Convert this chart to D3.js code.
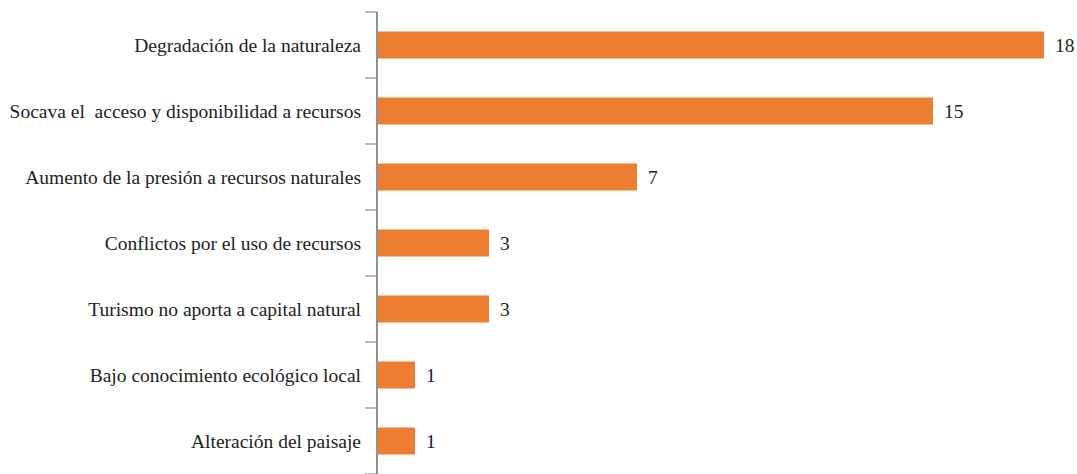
<!DOCTYPE html>
<html><head><meta charset="utf-8">
<script src="https://cdn.jsdelivr.net/npm/d3@7"></script>
<style>
html,body{margin:0;padding:0;background:#fff;}
</style></head>
<body>
<svg id="chart" width="1077" height="474"></svg>
<script>
const categories = [
  "Degradación de la naturaleza",
  "Socava el  acceso y disponibilidad a recursos",
  "Aumento de la presión a recursos naturales",
  "Conflictos por el uso de recursos",
  "Turismo no aporta a capital natural",
  "Bajo conocimiento ecológico local",
  "Alteración del paisaje"
];
const values = [18, 15, 7, 3, 3, 1, 1];

const FONT = "Liberation Serif";
const svg = d3.select("#chart");
const x0 = 378;
const x = d3.scaleLinear().domain([0, 18]).range([x0, x0 + 666]);
const y = d3.scaleBand().domain(categories).range([12, 474]).paddingInner(0.58).paddingOuter(0.29);

svg.selectAll("rect.bar").data(values).enter().append("rect")
  .attr("class","bar")
  .attr("x", x(0))
  .attr("y", (d,i)=> y(categories[i]) + y.bandwidth()/2 - 13.5)
  .attr("width", d=> x(d) - x(0))
  .attr("height", 27)
  .attr("fill", "#ED7D31");

svg.append("line").attr("x1", x0-1).attr("x2", x0-1).attr("y1", 12).attr("y2", 480)
  .attr("stroke", "#555").attr("stroke-width", 1.3);

const bounds = d3.range(categories.length + 1).map(i => 12 + i*y.step());
svg.selectAll("line.tick").data(bounds).enter().append("line")
  .attr("class","tick")
  .attr("x1", x0-13).attr("x2", x0-1)
  .attr("y1", d=>d).attr("y2", d=>d)
  .attr("stroke", "#777").attr("stroke-width", 1);

svg.selectAll("text.cat").data(categories).enter().append("text")
  .attr("class","cat")
  .attr("x", x0-17)
  .attr("y", d=> y(d) + y.bandwidth()/2)
  .attr("dy", "0.35em")
  .attr("text-anchor", "end")
  .attr("font-family", FONT)
  .attr("font-size", 19.5)
  .attr("fill", "#222")
  .style("white-space", "pre")
  .text(d=>d);

svg.selectAll("text.val").data(values).enter().append("text")
  .attr("class","val")
  .attr("x", d=> x(d) + 11)
  .attr("y", (d,i)=> y(categories[i]) + y.bandwidth()/2)
  .attr("dy", "0.35em")
  .attr("font-family", FONT)
  .attr("font-size", 19.5)
  .attr("fill", "#222")
  .text(d=>d);
</script>
</body></html>
